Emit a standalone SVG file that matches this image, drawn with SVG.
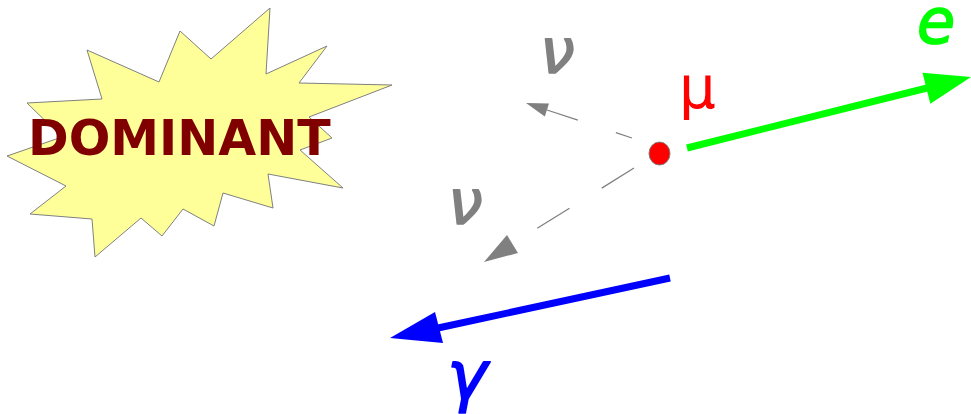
<svg xmlns="http://www.w3.org/2000/svg" width="971" height="414" viewBox="0 0 971 414">
<style>
.greek{font-family:"DejaVu Sans",sans-serif;font-style:italic;font-weight:normal;stroke-width:1.6;stroke-linejoin:round}
.nu{fill:#808080;stroke:#808080;font-size:62px}
.gray{stroke:#808080;stroke-width:1.3;fill:none}
.grayhead{fill:#808080}
</style>
<rect width="971" height="414" fill="#ffffff"/>
<g id="dominant">
<polygon points="27,103 102,99 87,50 159,82 180,31 211,59 270,8 266,74 327,46 299,83 392,85 309,117 332,138 300,150 343,188 268,174 273,208 223,193 214,226 183,209 162,236 141,218 95,257 92,219 30,214 66,186 7,156 62,137" fill="#ffff99" stroke="#808080" stroke-width="1"/>
<text x="28" y="155" font-family="DejaVu Sans, sans-serif" font-weight="bold" font-size="49" fill="#800000">DOMINANT</text>
</g>
<g id="muon">
<ellipse cx="659.5" cy="153.5" rx="10.5" ry="11.5" fill="#ff0000" stroke="#808080" stroke-width="1"/>
<text x="679" y="108" font-family="DejaVu Sans, sans-serif" font-size="58" fill="#ff0000">μ</text>
</g>
<g id="nu1"><text class="greek nu" x="540" y="73">ν</text></g>
<g id="nu2"><text class="greek nu" x="448" y="224">ν</text></g>
<g id="electron"><text class="greek" x="917" y="43" font-size="62" fill="#00ff00" stroke="#00ff00">e</text></g>
<g id="photon"><text class="greek" x="447" y="399" font-size="68" fill="#0000ff" stroke="#0000ff">γ</text></g>
<g id="connectors">
<line x1="687" y1="148" x2="927" y2="88" stroke="#00ff00" stroke-width="7"/>
<polygon points="971,77 922.5,72.7 930.3,103.7" fill="#00ff00"/>
<line x1="670" y1="278" x2="438" y2="328" stroke="#0000ff" stroke-width="7"/>
<polygon points="390,338 435,312 443,343" fill="#0000ff"/>
<line class="gray" x1="632" y1="138" x2="547" y2="110" stroke-dasharray="33,40" stroke-dashoffset="16"/>
<polygon class="grayhead" points="526,103 549,103.4 544.8,116.6"/>
<line class="gray" x1="634" y1="168" x2="512" y2="244" stroke-dasharray="38,38"/>
<polygon class="grayhead" points="484,262 507,235 518,253"/>
</g>
</svg>
